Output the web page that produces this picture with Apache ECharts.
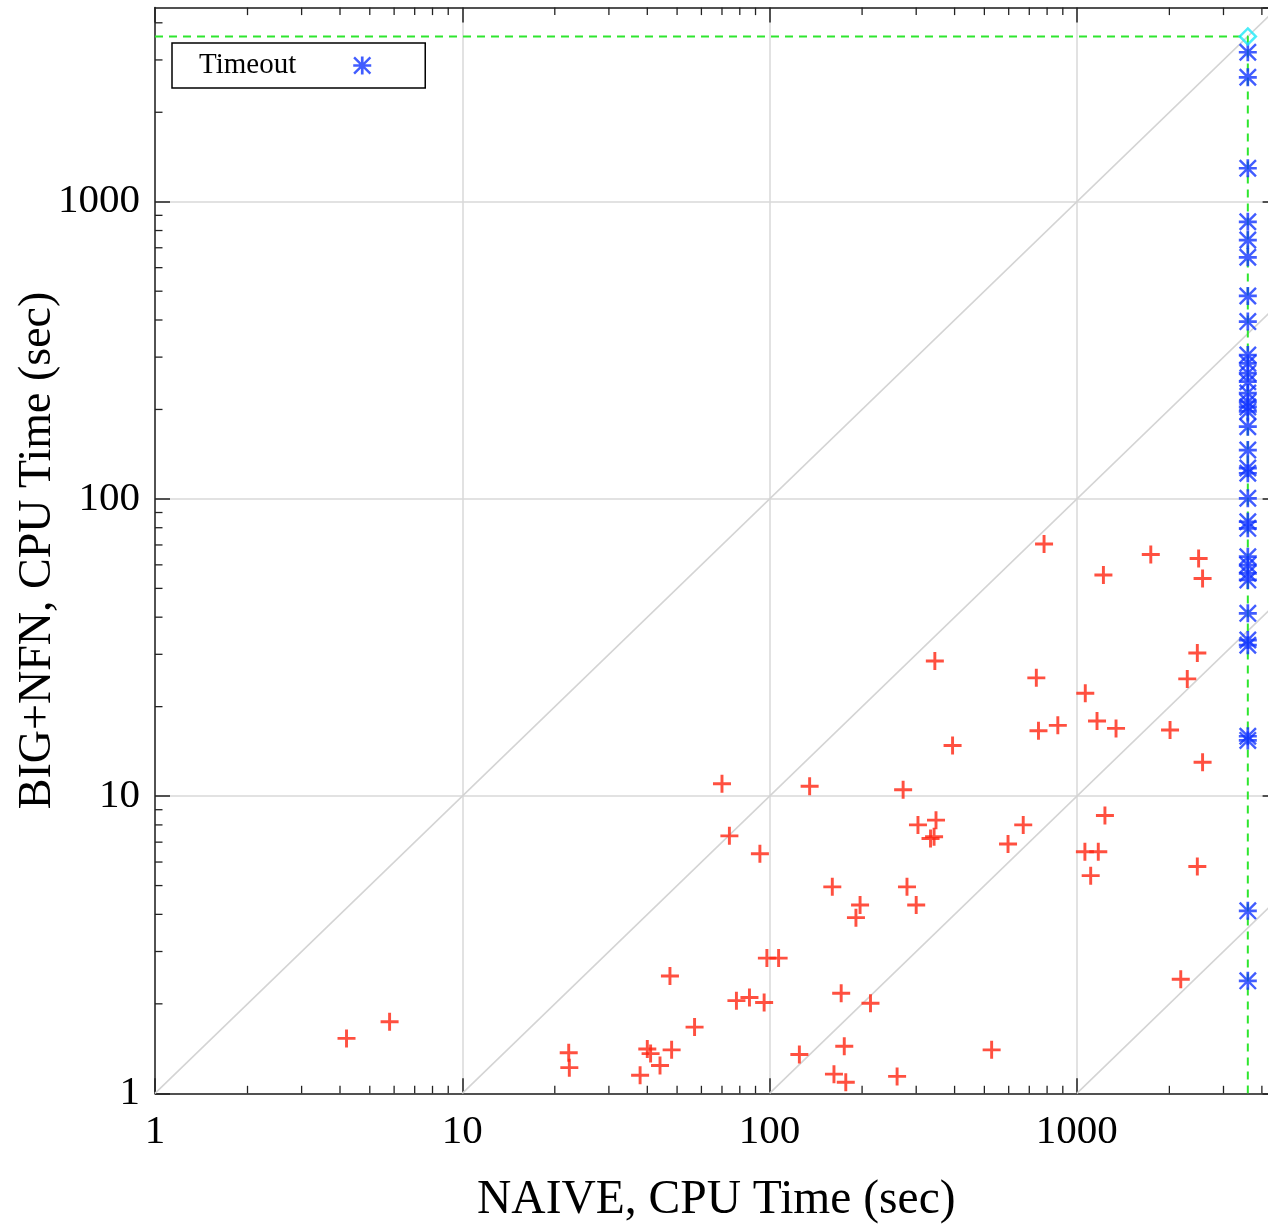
<!DOCTYPE html>
<html><head><meta charset="utf-8">
<script src="https://cdn.jsdelivr.net/npm/echarts@6/dist/echarts.min.js"></script>
<style>html,body{margin:0;padding:0;background:#fff}#c{width:1268px;height:1225px}</style>
</head><body><div id="c"></div>
<script>
// ---- data ----
const TIMEOUT = 3600;
const AXIS_MIN = 1, AXIS_MAX = 4500;
const decadeLabels = [1, 10, 100, 1000];
const minorSteps = [2, 3, 4, 5, 6, 7, 8, 9];
const diagonalRatios = [1, 0.1, 0.01, 0.001];

// solved by both: NAIVE time (x), BIG+NFN time (y)
const naiveTime = [4.2, 5.8, 22.2, 22.3, 37.9, 40, 41, 44, 48, 47.4, 57, 70, 74, 78, 86, 93, 96, 98, 107, 125,
  135, 160, 162, 175, 177, 171, 213, 260, 197, 191, 280, 300, 272, 304, 348, 334, 343, 782, 1740, 2490,
  2565, 1220, 345, 738, 1065, 2466, 2287, 750, 867, 1163, 1341, 2010, 394, 2565, 669, 597, 1234, 1062, 1174, 1109,
  2466, 2178, 528];
const bigNfnTime = [1.53, 1.74, 1.37, 1.22, 1.15, 1.41, 1.36, 1.24, 1.40, 2.48, 1.67, 11, 7.35, 2.05, 2.1, 6.4, 2.02, 2.85, 2.85, 1.35,
  10.8, 4.95, 1.16, 1.44, 1.09, 2.17, 2.01, 1.14, 4.3, 3.9, 4.95, 4.3, 10.5, 8.0, 8.3, 7.2, 7.3, 70.5, 65, 63,
  54, 55.5, 28.5, 25, 22.2, 30.3, 24.8, 16.6, 17.3, 17.9, 16.9, 16.7, 14.8, 13, 8.0, 6.9, 8.6, 6.5, 6.5, 5.4,
  5.8, 2.42, 1.40];
// NAIVE timed out (x = TIMEOUT), BIG+NFN time
const timeoutBigNfn = [3184, 2622, 1296, 856, 743, 650, 482, 395, 305, 286, 265, 248, 227, 212, 204, 197, 175, 146,
  127, 122, 100.5, 83.8, 79.6, 63.9, 59.9, 56.2, 53.4, 41.2, 33.5, 32.2, 15.9, 15.4, 4.11, 2.39];

// ---- derived ----
const minorVals = [];
decadeLabels.forEach(d => minorSteps.forEach(s => { if (d * s < AXIS_MAX) minorVals.push(d * s); }));
const solvedPts = naiveTime.map((x, i) => [x, bigNfnTime[i]]);
const timeoutPts = timeoutBigNfn.map(y => [TIMEOUT, y]);

const FONT = 'Liberation Serif, Times New Roman, serif';
const AX = '#222';
const MINOR = 7.5, MAJOR = 15;

const PLUS = 'path://M6.7,0h2.6v6.7h6.7v2.6h-6.7v6.7h-2.6v-6.7h-6.7v-2.6h6.7z';
const STAR = 'path://M42.5,0H57.5V100H42.5Z M0,42.5H100V57.5H0Z M9.5,0L100,90.5L90.5,100L0,9.5Z M90.5,0L100,9.5L9.5,100L0,90.5Z';

function minorRender(axis) {
  return function (params, api) {
    const cs = params.coordSys;
    const st = { stroke: AX, lineWidth: 1.3 };
    if (axis === 'x') {
      const px = api.coord([api.value(0), AXIS_MIN])[0];
      const yb = cs.y + cs.height, yt = cs.y;
      return { type: 'group', children: [
        { type: 'line', shape: { x1: px, y1: yb, x2: px, y2: yb - MINOR }, style: st },
        { type: 'line', shape: { x1: px, y1: yt, x2: px, y2: yt + MINOR }, style: st }
      ] };
    } else {
      const py = api.coord([AXIS_MIN, api.value(1)])[1];
      const xl = cs.x, xr = cs.x + cs.width;
      return { type: 'group', children: [
        { type: 'line', shape: { x1: xl, y1: py, x2: xl + MINOR, y2: py }, style: st },
        { type: 'line', shape: { x1: xr, y1: py, x2: xr - MINOR, y2: py }, style: st }
      ] };
    }
  };
}

const labelFmt = v => String(Math.round(v));

function logAxis(pos, showLabel, extra) {
  return Object.assign({
    type: 'log', logBase: 10, min: AXIS_MIN, max: AXIS_MAX, position: pos,
    axisLine: { show: true, lineStyle: { color: AX, width: 1.5 } },
    axisTick: { show: true, inside: true, length: MAJOR, lineStyle: { color: AX, width: 1.5 } },
    axisLabel: { show: showLabel, fontFamily: FONT, fontSize: 41, color: '#000', showMaxLabel: false, formatter: labelFmt },
    splitLine: { show: showLabel, lineStyle: { color: '#d9d9d9', width: 1.5 } },
    minorTick: { show: false }, minorSplitLine: { show: false }
  }, extra || {});
}

const series = [];
diagonalRatios.forEach(r => {
  series.push({ type: 'line', silent: true, symbol: 'none', z: 1, animation: false,
    data: [[AXIS_MIN / r, AXIS_MIN], [AXIS_MAX, AXIS_MAX * r]],
    lineStyle: { color: '#d4d4d4', width: 1.6 } });
});
series.push({ type: 'line', silent: true, symbol: 'none', z: 2,
  data: [[AXIS_MIN, TIMEOUT], [TIMEOUT, TIMEOUT], [TIMEOUT, AXIS_MIN]],
  lineStyle: { color: '#2ee62e', width: 2, type: [8, 6] } });
series.push({ type: 'custom', silent: true, z: 5, renderItem: minorRender('x'),
  data: minorVals.map(v => [v, AXIS_MIN]) });
series.push({ type: 'custom', silent: true, z: 5, renderItem: minorRender('y'),
  data: minorVals.map(v => [AXIS_MIN, v]) });
series.push({ name: 'Solved', type: 'scatter', z: 4, symbol: PLUS, symbolSize: 18,
  itemStyle: { color: '#ff2410' }, data: solvedPts });
series.push({ name: 'Timeout', type: 'scatter', z: 4, symbol: STAR, symbolSize: 18,
  itemStyle: { color: '#1234ff' }, data: timeoutPts });
series.push({ name: 'Both', type: 'scatter', z: 4, symbol: 'diamond', symbolSize: [16, 16],
  itemStyle: { color: 'rgba(0,0,0,0)', borderColor: '#1ee8f8', borderWidth: 2.5 }, data: [[TIMEOUT, TIMEOUT]] });

const chart = echarts.init(document.getElementById('c'), null, { renderer: 'canvas' });
chart.setOption({
  animation: false,
  backgroundColor: '#fff',
  grid: { left: 155, top: 7.6, width: 1122.6, height: 1085.7, containLabel: false, outerBoundsMode: 'none' },
  legend: {
    data: ['Timeout'], left: 172, top: 43, orient: 'horizontal', align: 'right',
    backgroundColor: '#fff', borderColor: '#000', borderWidth: 1.5, borderRadius: 0,
    padding: [8, 54, 8, 27], itemWidth: 18, itemHeight: 18,
    textStyle: { fontFamily: FONT, fontSize: 29, color: '#000', padding: [0, 52, 0, 0] }
  },
  xAxis: [
    logAxis('bottom', true, { name: 'NAIVE, CPU Time (sec)', nameLocation: 'middle', nameGap: 83, nameMoveOverlap: false,
      nameTextStyle: { fontFamily: FONT, fontSize: 47.5, color: '#000' },
      axisLabel: { show: true, fontFamily: FONT, fontSize: 41, color: '#000', showMaxLabel: false, margin: 18, formatter: labelFmt } }),
    logAxis('top', false)
  ],
  yAxis: [
    logAxis('left', true, { name: 'BIG+NFN, CPU Time (sec)', nameLocation: 'middle', nameGap: 94, nameMoveOverlap: false,
      nameTextStyle: { fontFamily: FONT, fontSize: 46, color: '#000' },
      axisLabel: { show: true, fontFamily: FONT, fontSize: 41, color: '#000', showMaxLabel: false, margin: 15, formatter: labelFmt } }),
    logAxis('right', false)
  ],
  series: series
});
</script></body></html>
